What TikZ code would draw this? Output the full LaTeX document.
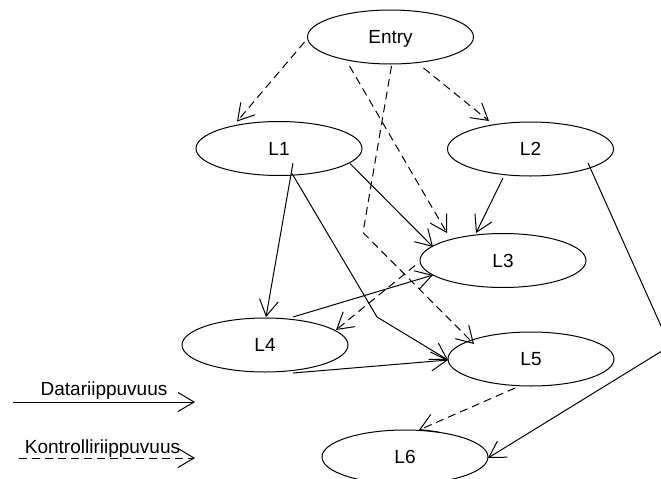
\documentclass[tikz,border=0pt]{standalone}
\usepackage{fontspec}
\setmainfont{Liberation Sans}
\usetikzlibrary{shapes.geometric,arrows.meta,calc}
\begin{document}
\begin{tikzpicture}[x=1pt,y=-1pt,
  every node/.style={font=\fontsize{19}{22}\selectfont},
  blk/.style={ellipse,draw,line width=1pt,minimum width=166pt,minimum height=54pt,inner sep=0pt,text height=13.6pt,text depth=0pt},
  dep/.style={line width=1pt,-{Straight Barb[length=16pt,width=19pt]}},
  ctl/.style={dep,dash pattern=on 8pt off 5pt},
  lbl/.style={anchor=base,inner sep=0pt}]
\useasboundingbox (0,0) rectangle (661,479);
\node[blk] (Entry) at (390.5,37) {Entry};
\node[blk] (L1) at (279,148.5) {L1};
\node[blk] (L2) at (530.5,149) {L2};
\node[blk] (L3) at (503,260.5) {L3};
\node[blk] (L4) at (265,345) {L4};
\node[blk] (L5) at (531,359) {L5};
\node[blk] (L6) at (405,457) {L6};
\coordinate (b1) at (363,232.5);
\coordinate (b2) at (377,317);
\coordinate (b3) at (670,346);
% control dependencies
\draw[ctl] ($(Entry)+(-86,5)$) -- ($(L1)+(-42,-27)$);
\draw[ctl] ($(Entry)+(33,31)$) -- ($(L2)+(-41.5,-28)$);
\draw[ctl] ($(Entry)+(-41,29)$) -- ($(L3)+(-56,-27.5)$);
\draw[ctl] ($(Entry)+(1,29)$) -- (b1) -- ($(L5)+(-57,-15)$);
\draw[ctl] ($(L3)+(-88,5)$) -- ($(L4)+(71,-15)$);
\draw[ctl] ($(L5)+(-16,29)$) -- ($(L6)+(14,-27)$);
% data dependencies
\draw[dep] ($(L1)+(14,14.5)$) -- ($(L4)+(1,-28)$);
\draw[dep] ($(L1)+(13,25)$) -- (b2) -- ($(L5)+(-83,1)$);
\draw[dep] ($(L1)+(71,15)$) -- ($(L3)+(-70,-13.5)$);
\draw[dep] ($(L2)+(-27.5,29)$) -- ($(L3)+(-27,-27.5)$);
\draw[dep] ($(L4)+(28,-28)$) -- ($(L3)+(-70,14.5)$);
\draw[dep] ($(L4)+(28,28)$) -- ($(L5)+(-83,1)$);
\draw[dep] ($(L2)+(57.5,14)$) -- (b3) -- ($(L6)+(83,1)$);
% legend
\node[lbl] (dlab) at (104,395) {Datariippuvuus};
\node[lbl] (klab) at (102.5,453) {Kontrolliriippuvuus};
\coordinate (d0) at (13,402);
\coordinate (d1) at (195,402);
\coordinate (k0) at (19,458);
\coordinate (k1) at (195,458);
\draw[dep] (d0) -- (d1);
\draw[ctl] (k0) -- (k1);
\end{tikzpicture}
\end{document}
